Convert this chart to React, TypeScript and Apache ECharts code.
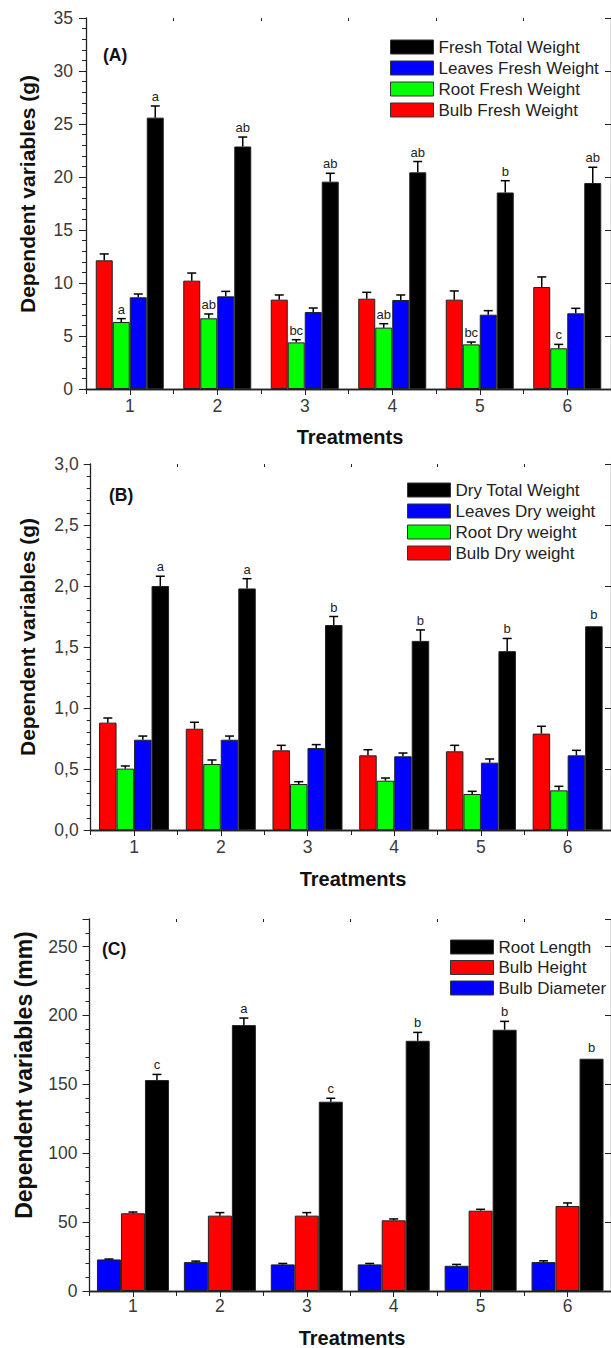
import React, { useEffect, useRef } from "react";
import * as echarts from "echarts";

const treatments = ["1", "2", "3", "4", "5", "6"];

// Panel A (g)
const aBulb = [12.14, 10.22, 8.43, 8.52, 8.43, 9.62];
const aBulbErr = [0.6, 0.72, 0.44, 0.6, 0.82, 0.95];
const aRoot = [6.32, 6.67, 4.4, 5.79, 4.21, 3.84];
const aRootErr = [0.32, 0.41, 0.25, 0.37, 0.22, 0.37];
const aRootLabels = ["a", "ab", "bc", "ab", "bc", "c"];
const aLeaves = [8.65, 8.74, 7.26, 8.4, 7.01, 7.14];
const aLeavesErr = [0.31, 0.47, 0.38, 0.47, 0.38, 0.47];
const aTotal = [25.6, 22.88, 19.56, 20.44, 18.54, 19.43];
const aTotalErr = [1.1, 0.89, 0.79, 1.02, 1.11, 1.49];
const aTotalLabels = ["a", "ab", "ab", "ab", "b", "ab"];

// Panel B (g)
const bBulb = [0.88, 0.83, 0.653, 0.612, 0.645, 0.79];
const bBulbErr = [0.038, 0.053, 0.041, 0.046, 0.049, 0.06];
const bRoot = [0.503, 0.541, 0.377, 0.404, 0.295, 0.325];
const bRootErr = [0.022, 0.033, 0.019, 0.022, 0.022, 0.033];
const bLeaves = [0.74, 0.74, 0.672, 0.604, 0.552, 0.612];
const bLeavesErr = [0.03, 0.03, 0.028, 0.027, 0.03, 0.041];
const bTotal = [2.0, 1.98, 1.68, 1.55, 1.466, 1.67];
const bTotalErr = [0.08, 0.08, 0.07, 0.09, 0.104, 0];
const bTotalLabels = ["a", "a", "b", "b", "b", "b"];

// Panel C (mm)
const cDiameter = [22.9, 21.0, 19.3, 19.3, 18.3, 21.0];
const cDiameterErr = [0.3, 0.7, 0.7, 0.7, 1.0, 0.9];
const cHeight = [56.4, 54.7, 54.7, 51.3, 58.3, 61.7];
const cHeightErr = [0.9, 2.2, 2.2, 1.0, 1.0, 2.2];
const cLength = [153.1, 193.0, 137.4, 181.6, 189.6, 168.6];
const cLengthErr = [4.1, 5.1, 2.5, 6.1, 6.1, 0];
const cLengthLabels = ["c", "a", "c", "b", "b", "b"];

const FONT = "'Liberation Sans', Arial, sans-serif";
const AXIS_COLOR = "#222";
const LABEL_COLOR = "#3a3a3a";

function errSeries(
  xIdx: number,
  yIdx: number,
  values: number[],
  errs: number[],
  labels: string[] | null,
  pos: number,
  n: number,
  barW: number
) {
  return {
    type: "custom",
    xAxisIndex: xIdx,
    yAxisIndex: yIdx,
    z: 10,
    silent: true,
    data: values.map((v, i) => [i, v, errs[i]]),
    renderItem: (params: any, api: any) => {
      const i = api.value(0);
      const v = api.value(1);
      const e = api.value(2);
      const lab = labels ? labels[params.dataIndex] : "";
      const base = api.coord([i, v]);
      const top = api.coord([i, v + e]);
      const x = base[0] + (pos - (n - 1) / 2) * barW;
      const children: any[] = [];
      if (e > 0) {
        children.push({
          type: "line",
          shape: { x1: x, y1: base[1], x2: x, y2: top[1] },
          style: { stroke: "#000", lineWidth: 1.5 },
        });
        children.push({
          type: "line",
          shape: { x1: x - 4.5, y1: top[1], x2: x + 4.5, y2: top[1] },
          style: { stroke: "#000", lineWidth: 1.5 },
        });
      }
      if (lab) {
        children.push({
          type: "text",
          x: x,
          y: top[1] - (e > 0 ? 3 : 5),
          style: {
            text: lab,
            fill: "#222",
            font: "13px " + FONT,
            textAlign: "center",
            textVerticalAlign: "bottom",
          },
        });
      }
      return { type: "group", children };
    },
  };
}

function barSeries(name: string, xIdx: number, yIdx: number, data: number[], color: string, barW: number) {
  return {
    name,
    type: "bar",
    xAxisIndex: xIdx,
    yAxisIndex: yIdx,
    data,
    barWidth: barW,
    barGap: "0%",
    itemStyle: { color, borderColor: "#222", borderWidth: 1 },
  };
}

function xAxesFor(gridIndex: number, labelMargin: number) {
  return [
    {
      type: "category",
      gridIndex,
      data: treatments,
      position: "bottom",
      axisLine: { lineStyle: { color: AXIS_COLOR, width: 1.3 } },
      axisTick: { show: true, inside: false, length: 5, lineStyle: { color: AXIS_COLOR } },
      axisLabel: { color: LABEL_COLOR, fontSize: 17.5, fontFamily: FONT, margin: labelMargin },
    },
    {
      type: "category",
      gridIndex,
      data: treatments,
      position: "top",
      axisLine: { lineStyle: { color: AXIS_COLOR, width: 1.3 } },
      axisTick: { show: true, inside: true, alignWithLabel: true, length: 6, lineStyle: { color: AXIS_COLOR } },
      axisLabel: { show: false },
    },
    {
      type: "category",
      gridIndex,
      data: treatments,
      position: "top",
      axisLine: { show: false },
      axisTick: { show: true, inside: true, length: 3, lineStyle: { color: AXIS_COLOR } },
      axisLabel: { show: false },
    },
  ];
}

function yAxesFor(gridIndex: number, max: number, interval: number, formatter: (v: number) => string, labelMargin: number) {
  return [
    {
      type: "value",
      gridIndex,
      min: 0,
      max,
      interval,
      position: "left",
      splitLine: { show: false },
      axisLine: { show: true, lineStyle: { color: AXIS_COLOR, width: 1.3 } },
      axisTick: { show: true, inside: false, length: 7, lineStyle: { color: AXIS_COLOR } },
      minorTick: { show: true, splitNumber: 5, length: 4, lineStyle: { color: AXIS_COLOR } },
      axisLabel: { color: LABEL_COLOR, fontSize: 17.5, fontFamily: FONT, margin: labelMargin, formatter },
    },
    {
      type: "value",
      gridIndex,
      min: 0,
      max,
      interval,
      position: "right",
      splitLine: { show: false },
      axisLine: { show: true, lineStyle: { color: AXIS_COLOR, width: 1.3 } },
      axisTick: { show: true, inside: true, length: 6, lineStyle: { color: AXIS_COLOR } },
      minorTick: { show: false },
      axisLabel: { show: false },
    },
  ];
}

function legendFor(names: string[], left: number, top: number, gap: number) {
  return {
    data: names,
    orient: "vertical",
    left,
    top,
    itemWidth: 43,
    itemHeight: 14,
    itemGap: gap,
    icon: "rect",
    selectedMode: false,
    padding: 0,
    itemStyle: { borderColor: "#333", borderWidth: 1 },
    textStyle: { fontSize: 17, color: "#222", fontFamily: FONT },
  };
}

function titleText(text: string, x: number, y: number, size: number) {
  return {
    type: "text",
    x,
    y,
    style: { text, font: "bold " + size + "px " + FONT, fill: "#111", textAlign: "center", textVerticalAlign: "middle" },
  };
}

function yTitle(text: string, x: number, y: number, size: number) {
  return {
    type: "text",
    x,
    y,
    rotation: Math.PI / 2,
    style: { text, font: "bold " + size + "px " + FONT, fill: "#111", textAlign: "center", textVerticalAlign: "middle" },
  };
}

function panelTag(text: string, x: number, y: number) {
  return {
    type: "text",
    x,
    y,
    style: { text, font: "bold 17.5px " + FONT, fill: "#111", textVerticalAlign: "middle" },
  };
}

export default function App() {
  const ref = useRef<HTMLDivElement>(null);

  useEffect(() => {
    if (!ref.current) return;
    const chart = echarts.init(ref.current, null, { renderer: "svg" });
    const fmtInt = (v: number) => String(v);
    const fmtComma = (v: number) => v.toFixed(1).replace(".", ",");
    const fmtC = (v: number) => (v % 50 === 0 ? String(v) : "");

    const wA = 17;
    const wB = 17.5;
    const wC = 24;

    const option: any = {
      animation: false,
      backgroundColor: "#fff",
      grid: [
        { left: 86, top: 18, width: 527, height: 371 },
        { left: 90.7, top: 464, width: 524, height: 366 },
        { left: 89.5, top: 919, width: 525, height: 372 },
      ],
      xAxis: [...xAxesFor(0, 8), ...xAxesFor(1, 8), ...xAxesFor(2, 6)],
      yAxis: [
        ...yAxesFor(0, 35, 5, fmtInt, 13),
        ...yAxesFor(1, 3, 0.5, fmtComma, 12),
        ...yAxesFor(2, 270, 50, fmtC, 12),
      ],
      legend: [
        legendFor(["Fresh Total Weight", "Leaves Fresh Weight", "Root Fresh Weight", "Bulb Fresh Weight"], 390, 38.5, 4),
        legendFor(["Dry Total Weight", "Leaves Dry weight", "Root Dry weight", "Bulb Dry weight"], 407, 481.5, 4),
        legendFor(["Root Length", "Bulb Height", "Bulb Diameter"], 450, 938.5, 3.5),
      ],
      graphic: [
        panelTag("(A)", 103, 55),
        panelTag("(B)", 109, 495),
        panelTag("(C)", 102, 949),
        yTitle("Dependent variables (g)", 27, 194, 21),
        yTitle("Dependent variables (g)", 27, 637, 21),
        yTitle("Dependent variables (mm)", 23.5, 1075, 23),
        titleText("Treatments", 350, 437, 20),
        titleText("Treatments", 353, 879, 20),
        titleText("Treatments", 352, 1338, 20),
      ],
      series: [
        // Panel A
        barSeries("Bulb Fresh Weight", 0, 0, aBulb, "#ff0000", wA),
        barSeries("Root Fresh Weight", 0, 0, aRoot, "#00ff00", wA),
        barSeries("Leaves Fresh Weight", 0, 0, aLeaves, "#0000ff", wA),
        barSeries("Fresh Total Weight", 0, 0, aTotal, "#000000", wA),
        errSeries(0, 0, aBulb, aBulbErr, null, 0, 4, wA),
        errSeries(0, 0, aRoot, aRootErr, aRootLabels, 1, 4, wA),
        errSeries(0, 0, aLeaves, aLeavesErr, null, 2, 4, wA),
        errSeries(0, 0, aTotal, aTotalErr, aTotalLabels, 3, 4, wA),
        // Panel B
        barSeries("Bulb Dry weight", 3, 2, bBulb, "#ff0000", wB),
        barSeries("Root Dry weight", 3, 2, bRoot, "#00ff00", wB),
        barSeries("Leaves Dry weight", 3, 2, bLeaves, "#0000ff", wB),
        barSeries("Dry Total Weight", 3, 2, bTotal, "#000000", wB),
        errSeries(3, 2, bBulb, bBulbErr, null, 0, 4, wB),
        errSeries(3, 2, bRoot, bRootErr, null, 1, 4, wB),
        errSeries(3, 2, bLeaves, bLeavesErr, null, 2, 4, wB),
        errSeries(3, 2, bTotal, bTotalErr, bTotalLabels, 3, 4, wB),
        // Panel C
        barSeries("Bulb Diameter", 6, 4, cDiameter, "#0000ff", wC),
        barSeries("Bulb Height", 6, 4, cHeight, "#ff0000", wC),
        barSeries("Root Length", 6, 4, cLength, "#000000", wC),
        errSeries(6, 4, cDiameter, cDiameterErr, null, 0, 3, wC),
        errSeries(6, 4, cHeight, cHeightErr, null, 1, 3, wC),
        errSeries(6, 4, cLength, cLengthErr, cLengthLabels, 2, 3, wC),
      ],
    };
    chart.setOption(option);
    return () => chart.dispose();
  }, []);

  return (
    <div
      ref={ref}
      style={{ position: "absolute", left: 0, top: 0, width: 611, height: 1348, background: "#fff" }}
    />
  );
}
